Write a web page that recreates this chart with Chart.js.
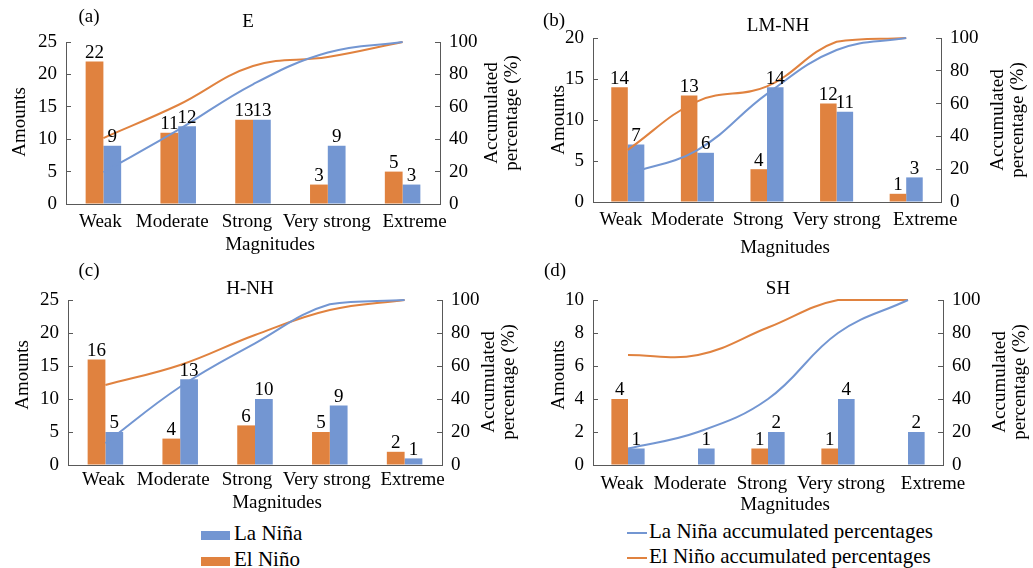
<!DOCTYPE html>
<html>
<head>
<meta charset="utf-8">
<script src="https://cdn.jsdelivr.net/npm/chart.js@4"></script>
<style>
body{margin:0;background:#fff;width:1033px;height:568px;position:relative;overflow:hidden;font-family:"Liberation Serif","DejaVu Serif",serif;color:#000}
.box{position:absolute}
.txt{position:absolute;font-size:19px;white-space:nowrap;transform:translate(-50%,-50%);line-height:20px}
.rot{transform:translate(-50%,-50%) rotate(-90deg);text-align:center}
.leg{position:absolute;font-size:21px;white-space:nowrap;line-height:24px;transform:translateY(-50%)}
.sw{display:inline-block;vertical-align:middle}
</style>
</head>
<body>
<div class="box" style="left:0;top:0"><canvas id="chartE"></canvas></div>
<div class="box" style="left:516px;top:0"><canvas id="chartLM"></canvas></div>
<div class="box" style="left:0;top:255px"><canvas id="chartH"></canvas></div>
<div class="box" style="left:516px;top:255px"><canvas id="chartSH"></canvas></div>

<!-- panel letters and titles -->
<div class="txt" style="left:89px;top:16px">(a)</div>
<div class="txt" style="left:248px;top:21px">E</div>
<div class="txt" style="left:554px;top:20px">(b)</div>
<div class="txt" style="left:778px;top:25px">LM-NH</div>
<div class="txt" style="left:89px;top:270px">(c)</div>
<div class="txt" style="left:250px;top:288px">H-NH</div>
<div class="txt" style="left:555px;top:270px">(d)</div>
<div class="txt" style="left:778px;top:288px">SH</div>

<!-- axis titles -->
<div class="txt rot" style="left:19px;top:122px">Amounts</div>
<div class="txt rot" style="left:501px;top:113px">Accumulated<br>percentage (%)</div>
<div class="txt" style="left:270px;top:244px">Magnitudes</div>
<div class="txt rot" style="left:558px;top:120px">Amounts</div>
<div class="txt rot" style="left:1007px;top:120px">Accumulated<br>percentage (%)</div>
<div class="txt" style="left:785px;top:247px">Magnitudes</div>
<div class="txt rot" style="left:22px;top:375px">Amounts</div>
<div class="txt rot" style="left:498px;top:382px">Accumulated<br>percentage (%)</div>
<div class="txt" style="left:277px;top:502px">Magnitudes</div>
<div class="txt rot" style="left:558px;top:375px">Amounts</div>
<div class="txt rot" style="left:1009px;top:382px">Accumulated<br>percentage (%)</div>
<div class="txt" style="left:785px;top:504px">Magnitudes</div>

<!-- legends -->
<div class="leg" style="left:201px;top:533px"><span class="sw" style="width:29px;height:9px;background:#7396D2;margin-right:4px"></span>La Niña</div>
<div class="leg" style="left:201px;top:559px"><span class="sw" style="width:29px;height:9px;background:#E0823F;margin-right:4px"></span>El Niño</div>
<div class="leg" style="left:627px;top:531px"><span class="sw" style="width:20px;height:2px;background:#7396D2;margin-right:2px"></span>La Niña accumulated percentages</div>
<div class="leg" style="left:627px;top:556px"><span class="sw" style="width:20px;height:2px;background:#E0823F;margin-right:2px"></span>El Niño accumulated percentages</div>

<script>
const magnitudes = ['Weak', 'Moderate', 'Strong', 'Very strong', 'Extreme'];

// (a) E
const elNinoE = [22, 11, 13, 3, 5];
const laNinaE = [9, 12, 13, 9, 3];
const elNinoAccE = [40.7, 61.1, 85.2, 90.7, 100];
const laNinaAccE = [19.6, 45.7, 73.9, 93.5, 100];

// (b) LM-NH
const elNinoLM = [14, 13, 4, 12, 1];
const laNinaLM = [7, 6, 14, 11, 3];
const elNinoAccLM = [31.8, 61.4, 70.5, 97.7, 100];
const laNinaAccLM = [17.1, 31.7, 65.9, 92.7, 100];

// (c) H-NH
const elNinoH = [16, 4, 6, 5, 2];
const laNinaH = [5, 13, 10, 9, 1];
const elNinoAccH = [48.5, 60.6, 78.8, 93.9, 100];
const laNinaAccH = [13.2, 47.4, 73.7, 97.4, 100];

// (d) SH
const elNinoSH = [4, 0, 1, 1, 0];
const laNinaSH = [1, 1, 2, 4, 2];
const elNinoAccSH = [66.7, 66.7, 83.3, 100, 100];
const laNinaAccSH = [10, 20, 40, 80, 100];

const orange = '#E0823F';
const blue = '#7396D2';
const axisColor = '#595959';
const fontFamily = '"Liberation Serif", "DejaVu Serif", serif';
const tickFont = {family: fontFamily, size: 19};

// numbers on top of the bars (zero bars get no label)
const barValueLabels = {
  id: 'barValueLabels',
  afterDatasetsDraw(chart) {
    const ctx = chart.ctx;
    ctx.save();
    ctx.font = '19px ' + fontFamily;
    ctx.fillStyle = '#000';
    ctx.textAlign = 'center';
    ctx.textBaseline = 'bottom';
    chart.data.datasets.forEach((ds, i) => {
      if (ds.type === 'line') return;
      chart.getDatasetMeta(i).data.forEach((bar, j) => {
        const v = ds.data[j];
        if (!v) return;
        ctx.fillText(v, bar.x, bar.y + 1);
      });
    });
    ctx.restore();
  }
};

// Excel nudges the category labels sideways so they don't collide
const shiftXLabels = {
  id: 'shiftXLabels',
  afterUpdate(chart, args, opts) {
    const shifts = opts.shifts || [];
    const items = chart.scales.x.getLabelItems(chart.chartArea);
    items.forEach((it, i) => { it.options.translation[0] += shifts[i] || 0; });
  }
};

function makePanel(id, w, h, area, labelShift, elNino, laNina, elAcc, laAcc, yMax, yStep) {
  const canvas = document.getElementById(id);
  canvas.width = w;
  canvas.height = h;
  return new Chart(canvas, {
    type: 'bar',
    data: {
      labels: magnitudes,
      datasets: [
        {type: 'line', label: 'La Niña accumulated percentages', data: laAcc, yAxisID: 'y2',
         borderColor: blue, borderWidth: 2, pointRadius: 0, tension: 0.4, clip: 6, order: 0},
        {type: 'line', label: 'El Niño accumulated percentages', data: elAcc, yAxisID: 'y2',
         borderColor: orange, borderWidth: 2, pointRadius: 0, tension: 0.4, clip: 6, order: 0},
        {label: 'El Niño', data: elNino, backgroundColor: orange, yAxisID: 'y',
         categoryPercentage: 0.475, barPercentage: 1, order: 1},
        {label: 'La Niña', data: laNina, backgroundColor: blue, yAxisID: 'y',
         categoryPercentage: 0.475, barPercentage: 1, order: 1}
      ]
    },
    options: {
      responsive: false,
      animation: false,
      layout: {padding: {top: area.top, left: 0, right: 0, bottom: 0}},
      plugins: {
        legend: {display: false},
        tooltip: {enabled: false},
        shiftXLabels: {shifts: labelShift}
      },
      scales: {
        x: {
          grid: {display: false},
          border: {color: axisColor},
          ticks: {font: tickFont, color: '#000', padding: area.labelPad, maxRotation: 0, minRotation: 0, autoSkip: false},
          afterFit(s) { s.height = h - area.bottom; }
        },
        y: {
          position: 'left', min: 0, max: yMax,
          grid: {drawOnChartArea: false, tickLength: -5, color: axisColor},
          border: {color: axisColor},
          ticks: {stepSize: yStep, font: tickFont, color: '#000', padding: 14},
          afterFit(s) { s.width = area.left; }
        },
        y2: {
          position: 'right', min: 0, max: 100,
          grid: {drawOnChartArea: false, tickLength: -5, color: axisColor},
          border: {color: axisColor},
          ticks: {stepSize: 20, font: tickFont, color: '#000', padding: 14},
          afterFit(s) { s.width = w - area.right; }
        }
      }
    },
    plugins: [barValueLabels, shiftXLabels]
  });
}

makePanel('chartE', 516, 255, {left: 66, right: 440, top: 42, bottom: 204, labelPad: -1}, [-3, -6, -6, -1, 12],
  elNinoE, laNinaE, elNinoAccE, laNinaAccE, 25, 5);
makePanel('chartLM', 517, 255, {left: 77, right: 425, top: 38, bottom: 202, labelPad: -1}, [-7, -10, -9, 0, 19],
  elNinoLM, laNinaLM, elNinoAccLM, laNinaAccLM, 20, 5);
makePanel('chartH', 516, 260, {left: 68, right: 442, top: 45, bottom: 210, labelPad: -4}, [-2, -7, -8, -3, 8],
  elNinoH, laNinaH, elNinoAccH, laNinaAccH, 25, 5);
makePanel('chartSH', 517, 260, {left: 77, right: 427, top: 45, bottom: 210, labelPad: 0}, [-6, -8, -6, 3, 25],
  elNinoSH, laNinaSH, elNinoAccSH, laNinaAccSH, 10, 2);
</script>
</body>
</html>
